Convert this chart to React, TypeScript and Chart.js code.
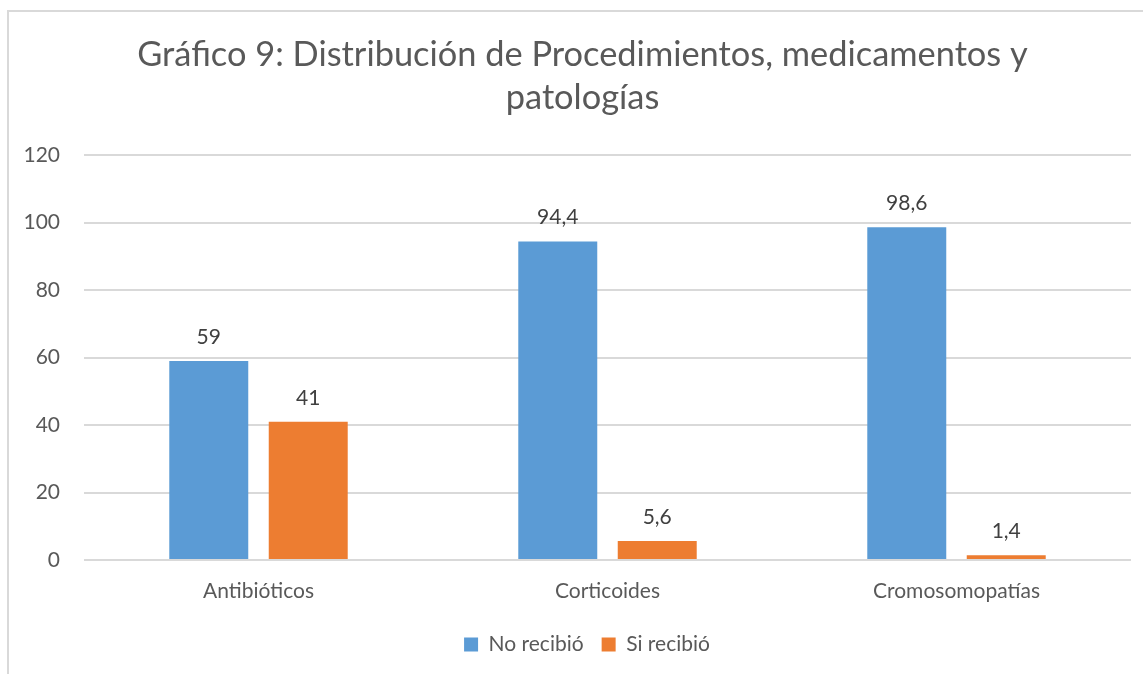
import React, { useEffect, useRef } from "react";
import { Chart, registerables } from "chart.js";

Chart.register(...registerables);

const categories = ["Antibióticos", "Corticoides", "Cromosomopatías"];
const noRecibio = [59, 94.4, 98.6];
const siRecibio = [41, 5.6, 1.4];
const seriesNames = ["No recibió", "Si recibió"];
const titleLines = ["Gráfico 9: Distribución de Procedimientos, medicamentos y", "patologías"];
const yTicks = [0, 20, 40, 60, 80, 100, 120];

const FONT = "Lato, 'Open Sans', sans-serif";
const TEXT = "#595959";

const valueLabels = {
  id: "valueLabels",
  afterDatasetsDraw(chart: any) {
    const ctx = chart.ctx;
    ctx.save();
    ctx.font = `21px ${FONT}`;
    ctx.fillStyle = "#404040";
    ctx.textAlign = "center";
    ctx.textBaseline = "alphabetic";
    chart.data.datasets.forEach((ds: any, di: number) => {
      const meta = chart.getDatasetMeta(di);
      meta.data.forEach((bar: any, i: number) => {
        const v = ds.data[i];
        const txt = String(v).replace(".", ",");
        ctx.fillText(txt, bar.x, bar.y - 17);
      });
    });
    ctx.restore();
  },
};

const titleDraw = {
  id: "titleDraw",
  afterDraw(chart: any) {
    const ctx = chart.ctx;
    ctx.save();
    ctx.font = `34.4px ${FONT}`;
    ctx.fillStyle = TEXT;
    ctx.textAlign = "center";
    ctx.textBaseline = "alphabetic";
    ctx.fillText(titleLines[0], 573.5, 54);
    ctx.fillText(titleLines[1], 573.5, 97);
    ctx.restore();
  },
};

const legendShift = {
  id: "legendShift",
  afterLayout(chart: any) {
    if (chart.legend) {
      chart.legend.left += 17;
      chart.legend.right += 17;
    }
  },
};

export default function App() {
  const ref = useRef<HTMLCanvasElement>(null);
  useEffect(() => {
    if (!ref.current) return;
    const chart = new Chart(ref.current, {
      type: "bar",
      data: {
        labels: categories,
        datasets: [
          { label: seriesNames[0], data: noRecibio, backgroundColor: "#5B9BD5", categoryPercentage: 0.57, barPercentage: 0.794 },
          { label: seriesNames[1], data: siRecibio, backgroundColor: "#ED7D31", categoryPercentage: 0.57, barPercentage: 0.794 },
        ],
      },
      options: {
        animation: false,
        responsive: false,
        maintainAspectRatio: false,
        layout: { padding: { left: 0, right: 26, top: 143, bottom: 9 } },
        plugins: {
          title: { display: false },
          legend: {
            position: "bottom",
            labels: {
              color: TEXT,
              font: { family: FONT, size: 21 },
              boxWidth: 14,
              boxHeight: 14,
              padding: 18,
            },
          },
          tooltip: { enabled: false },
        },
        scales: {
          x: {
            grid: { display: false, drawTicks: false },
            border: { display: false },
            ticks: { color: TEXT, font: { family: FONT, size: 21 }, padding: 19 },
            afterFit(scale: any) {
              scale.height = 56;
            },
          },
          y: {
            min: 0,
            max: 120,
            afterBuildTicks(scale: any) {
              scale.ticks = yTicks.map((v) => ({ value: v }));
            },
            afterFit(scale: any) {
              scale.width = 75;
            },
            grid: { color: "#d9d9d9", lineWidth: 2, drawTicks: false },
            border: { display: false },
            ticks: { color: TEXT, font: { family: FONT, size: 21 }, padding: 24 },
          },
        },
      },
      plugins: [valueLabels, titleDraw, legendShift],
    });
    return () => chart.destroy();
  }, []);
  return (
    <div
      style={{
        position: "fixed",
        left: 7,
        top: 10,
        width: 1148,
        height: 700,
        border: "2px solid #d9d9d9",
        background: "#fff",
      }}
    >
      <canvas ref={ref} width={1148} height={662} style={{ display: "block" }} />
    </div>
  );
}
